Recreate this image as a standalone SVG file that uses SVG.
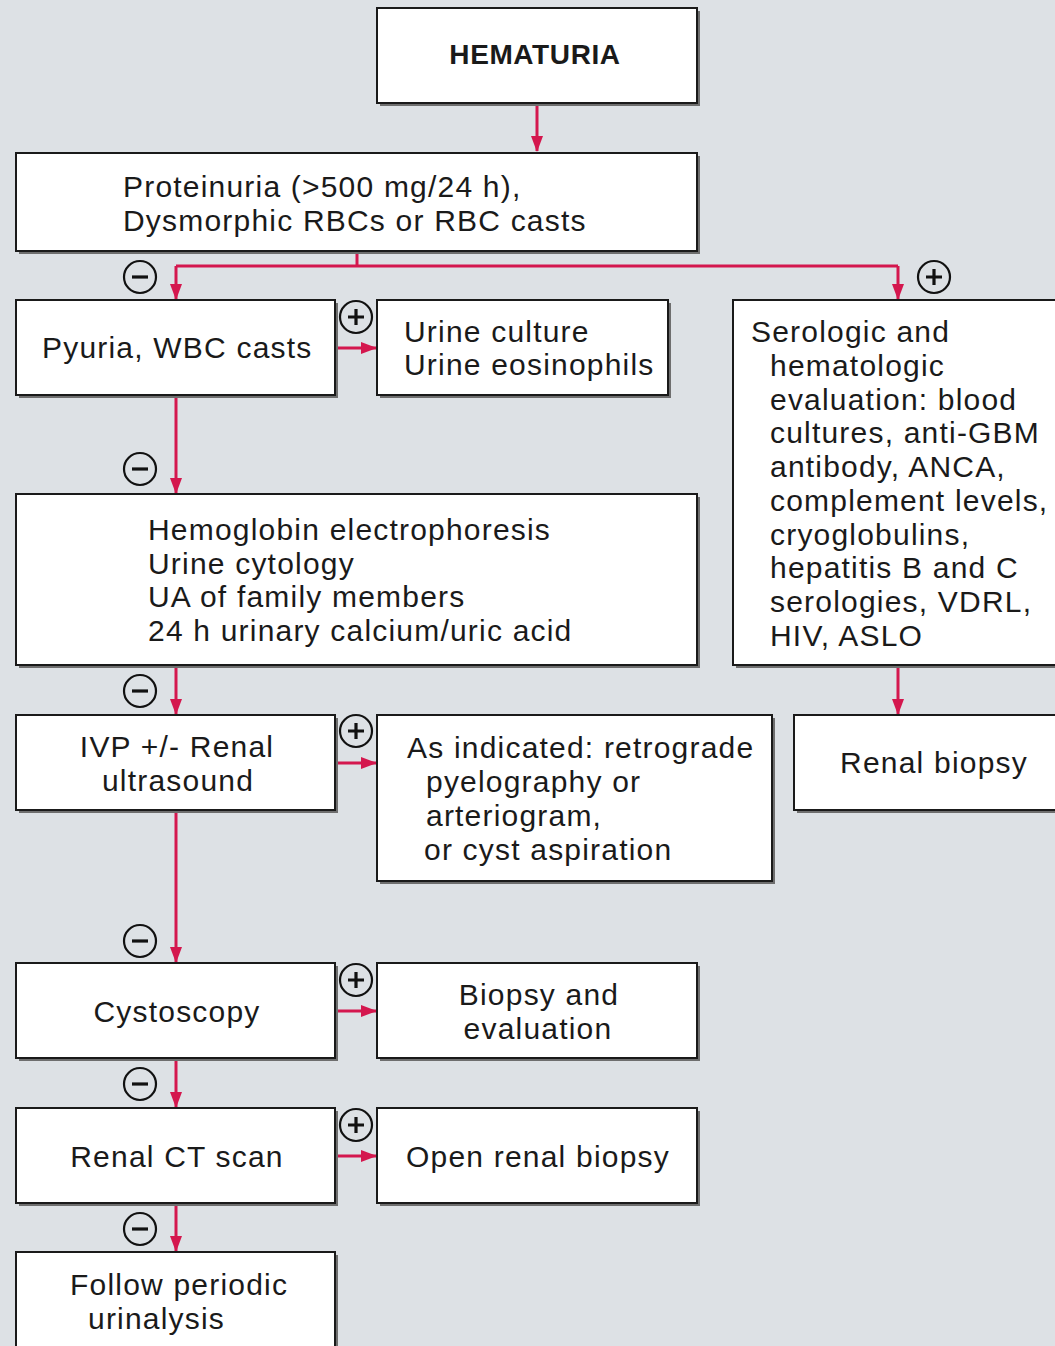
<svg xmlns="http://www.w3.org/2000/svg" width="1055" height="1346" viewBox="0 0 1055 1346">
<style>
.bg{fill:#dde1e5}
.sh{fill:#6e6e6e}
.bx{fill:#ffffff;stroke:#1a1a1a;stroke-width:2}
.t{font-family:"Liberation Sans",Arial,sans-serif;font-size:30px;letter-spacing:1.2px;fill:#1a1a1a}
.tb{font-family:"Liberation Sans",Arial,sans-serif;font-size:28px;font-weight:bold;letter-spacing:0.6px;fill:#1a1a1a}
.c{text-anchor:middle}
.ln{fill:none;stroke:#d4174e;stroke-width:3}
.ci{fill:none;stroke:#111;stroke-width:2.2}
.sg{stroke:#111;stroke-width:3.2;fill:none}
</style>
<defs>
<marker id="ah" markerUnits="userSpaceOnUse" markerWidth="16" markerHeight="12" refX="15" refY="6" orient="auto">
<path d="M0,0 L16,6 L0,12 Z" fill="#d4174e"/>
</marker>
<g id="minus"><circle class="ci" r="16"/><path class="sg" d="M-8,0 H8"/></g>
<g id="plus"><circle class="ci" r="16"/><path class="sg" d="M-8,0 H8 M0,-8 V8"/></g>
</defs>
<rect class="bg" x="0" y="0" width="1055" height="1346"/>

<g id="connectors">
<path class="ln" d="M537,104 V151" marker-end="url(#ah)"/>
<path class="ln" d="M357,252 V266"/>
<path class="ln" d="M176,266 H898"/>
<path class="ln" d="M176,266 V299" marker-end="url(#ah)"/>
<path class="ln" d="M898,266 V299" marker-end="url(#ah)"/>
<path class="ln" d="M337,348 H376" marker-end="url(#ah)"/>
<path class="ln" d="M176,396 V493" marker-end="url(#ah)"/>
<path class="ln" d="M176,666 V714" marker-end="url(#ah)"/>
<path class="ln" d="M337,763 H376" marker-end="url(#ah)"/>
<path class="ln" d="M898,666 V714" marker-end="url(#ah)"/>
<path class="ln" d="M176,811 V962" marker-end="url(#ah)"/>
<path class="ln" d="M337,1011 H376" marker-end="url(#ah)"/>
<path class="ln" d="M176,1059 V1107" marker-end="url(#ah)"/>
<path class="ln" d="M337,1156 H376" marker-end="url(#ah)"/>
<path class="ln" d="M176,1204 V1251" marker-end="url(#ah)"/>
<use href="#minus" x="140" y="277"/>
<use href="#plus" x="934" y="277"/>
<use href="#plus" x="356" y="317"/>
<use href="#minus" x="140" y="469"/>
<use href="#minus" x="140" y="691"/>
<use href="#plus" x="356" y="731"/>
<use href="#minus" x="140" y="941"/>
<use href="#plus" x="356" y="980"/>
<use href="#minus" x="140" y="1084"/>
<use href="#plus" x="356" y="1125"/>
<use href="#minus" x="140" y="1229"/>
</g>

<g id="n-hematuria">
<rect class="sh" x="380" y="11" width="320" height="95"/>
<rect class="bx" x="377" y="8" width="320" height="95"/>
<text class="tb c" x="535" y="64">HEMATURIA</text>
</g>

<g id="n-proteinuria">
<rect class="sh" x="19" y="156" width="681" height="98"/>
<rect class="bx" x="16" y="153" width="681" height="98"/>
<text class="t" x="123" y="197">Proteinuria (&gt;500 mg/24 h),</text>
<text class="t" x="123" y="231">Dysmorphic RBCs or RBC casts</text>
</g>

<g id="n-pyuria">
<rect class="sh" x="19" y="303" width="319" height="95"/>
<rect class="bx" x="16" y="300" width="319" height="95"/>
<text class="t" x="42" y="358">Pyuria, WBC casts</text>
</g>

<g id="n-urineculture">
<rect class="sh" x="380" y="303" width="291" height="95"/>
<rect class="bx" x="377" y="300" width="291" height="95"/>
<text class="t" x="404" y="342">Urine culture</text>
<text class="t" x="404" y="375">Urine eosinophils</text>
</g>

<g id="n-serologic">
<rect class="sh" x="736" y="303" width="330" height="365"/>
<rect class="bx" x="733" y="300" width="330" height="365"/>
<text class="t" x="751" y="342">Serologic and</text>
<text class="t" x="770" y="376">hematologic</text>
<text class="t" x="770" y="410">evaluation: blood</text>
<text class="t" x="770" y="443">cultures, anti-GBM</text>
<text class="t" x="770" y="477">antibody, ANCA,</text>
<text class="t" x="770" y="511">complement levels,</text>
<text class="t" x="770" y="545">cryoglobulins,</text>
<text class="t" x="770" y="578">hepatitis B and C</text>
<text class="t" x="770" y="612">serologies, VDRL,</text>
<text class="t" x="770" y="646">HIV, ASLO</text>
</g>

<g id="n-hemoglobin">
<rect class="sh" x="19" y="497" width="681" height="171"/>
<rect class="bx" x="16" y="494" width="681" height="171"/>
<text class="t" x="148" y="540">Hemoglobin electrophoresis</text>
<text class="t" x="148" y="574">Urine cytology</text>
<text class="t" x="148" y="607">UA of family members</text>
<text class="t" x="148" y="641">24 h urinary calcium/uric acid</text>
</g>

<g id="n-ivp">
<rect class="sh" x="19" y="718" width="319" height="95"/>
<rect class="bx" x="16" y="715" width="319" height="95"/>
<text class="t c" x="177" y="757">IVP +/- Renal</text>
<text class="t c" x="178" y="791">ultrasound</text>
</g>

<g id="n-asindicated">
<rect class="sh" x="380" y="718" width="395" height="166"/>
<rect class="bx" x="377" y="715" width="395" height="166"/>
<text class="t" x="407" y="758">As indicated: retrograde</text>
<text class="t" x="426" y="792">pyelography or</text>
<text class="t" x="426" y="826">arteriogram,</text>
<text class="t" x="424" y="860">or cyst aspiration</text>
</g>

<g id="n-renalbiopsy">
<rect class="sh" x="797" y="718" width="270" height="95"/>
<rect class="bx" x="794" y="715" width="270" height="95"/>
<text class="t c" x="934" y="773">Renal biopsy</text>
</g>

<g id="n-cystoscopy">
<rect class="sh" x="19" y="966" width="319" height="95"/>
<rect class="bx" x="16" y="963" width="319" height="95"/>
<text class="t c" x="177" y="1022">Cystoscopy</text>
</g>

<g id="n-biopsyeval">
<rect class="sh" x="380" y="966" width="320" height="95"/>
<rect class="bx" x="377" y="963" width="320" height="95"/>
<text class="t c" x="539" y="1005">Biopsy and</text>
<text class="t c" x="538" y="1039">evaluation</text>
</g>

<g id="n-renalct">
<rect class="sh" x="19" y="1111" width="319" height="95"/>
<rect class="bx" x="16" y="1108" width="319" height="95"/>
<text class="t c" x="177" y="1167">Renal CT scan</text>
</g>

<g id="n-openbiopsy">
<rect class="sh" x="380" y="1111" width="320" height="95"/>
<rect class="bx" x="377" y="1108" width="320" height="95"/>
<text class="t c" x="538" y="1167">Open renal biopsy</text>
</g>

<g id="n-follow">
<rect class="sh" x="19" y="1255" width="319" height="100"/>
<rect class="bx" x="16" y="1252" width="319" height="100"/>
<text class="t" x="70" y="1295">Follow periodic</text>
<text class="t" x="88" y="1329">urinalysis</text>
</g>
</svg>
